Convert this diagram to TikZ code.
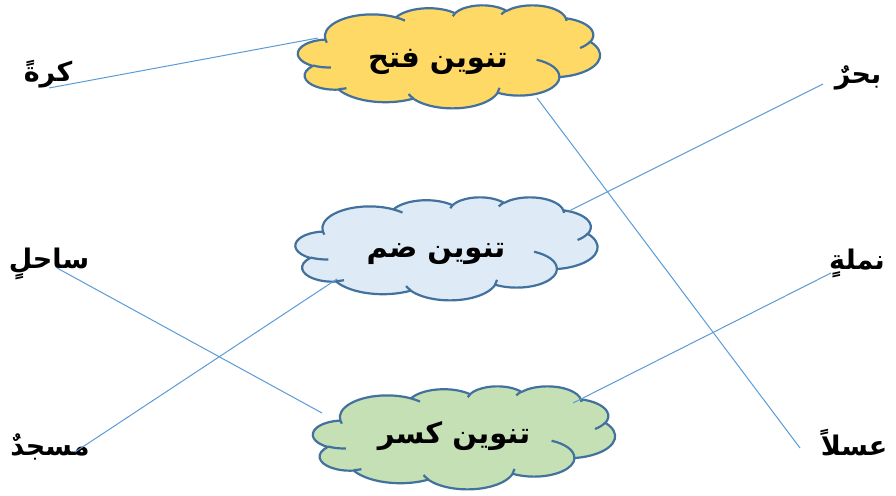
\documentclass[tikz,border=0pt]{standalone}
\usepackage{fontspec}
\usetikzlibrary{calc}
\newfontfamily\arabicfont[Script=Arabic]{DejaVu Sans}
\TeXXeTstate=1
\definecolor{linkblue}{RGB}{91,155,213}
\definecolor{cloudedge}{RGB}{65,113,156}
\definecolor{fathfill}{RGB}{255,217,102}
\definecolor{dammfill}{RGB}{222,235,247}
\definecolor{kasrfill}{RGB}{197,224,180}
\newcommand{\artext}[1]{\arabicfont\bfseries\beginR #1\endR}
% cloud outline, 302 x 103 around the given centre
\newcommand{\tanweencloud}[2]{%
    \begin{scope}[shift={#1}, shift={(-151,-51.5)}, x=0.69907pt, y=-0.23843pt]
        \filldraw[cloudline, fill=#2] (39,143.7)
            arc[start angle=-187.746, delta angle=128.11, x radius=67.53, y radius=91.90]
            arc[start angle=-152.019, delta angle=106.592, x radius=53.33, y radius=72.67]
            arc[start angle=-153.495, delta angle=116.17, x radius=43.65, y radius=59.45]
            arc[start angle=-139.72, delta angle=129.51, x radius=48.57, y radius=65.95]
            arc[start angle=-74.768, delta angle=97.974, x radius=53.33, y radius=72.73]
            arc[start angle=-37.52, delta angle=119.38, x radius=67.75, y radius=92.20]
            arc[start angle=0.4596, delta angle=121.52, x radius=57.85, y radius=78.67]
            arc[start angle=16.845, delta angle=129.385, x radius=67.52, y radius=92.15]
            arc[start angle=58.985, delta angle=91.195, x radius=77.20, y radius=105.43]
            arc[start angle=-276.694, delta angle=139.80, x radius=43.60, y radius=59.18]
            arc[start angle=-239.65, delta angle=143.76, x radius=43.45, y radius=59.45]
            -- cycle;
        % small inner folds
        \draw[cloudline]
            (46.93,261.77) arc[start angle=85.547, delta angle=34.80, x radius=43.45, y radius=59.45]
            (69.28,348.99) arc[start angle=68.23, delta angle=15.07, x radius=43.60, y radius=59.18]
            (164.78,390.90) arc[start angle=146.23, delta angle=12.24, x radius=67.52, y radius=92.15]
            (288.27,347.51) arc[start angle=4.737, delta angle=12.108, x radius=67.52, y radius=92.15]
            (341.29,229.54) arc[start angle=-64.03, delta angle=64.49, x radius=57.85, y radius=78.67]
            (417.98,153.54) arc[start angle=23.206, delta angle=26.44, x radius=53.33, y radius=72.73]
            (383.24,54.26) arc[start angle=-10.211, delta angle=11.03, x radius=48.57, y radius=65.95]
            (290.78,39.52) arc[start angle=-156.28, delta angle=16.56, x radius=48.57, y radius=65.95]
            (221.41,47.20) arc[start angle=-167.725, delta angle=14.23, x radius=43.65, y radius=59.45]
            (140.00,51.92) arc[start angle=-59.636, delta angle=13.93, x radius=67.53, y radius=91.90]
            (41.27,157.89) arc[start angle=163.194, delta angle=9.06, x radius=67.53, y radius=91.90];
    \end{scope}}

\begin{document}
\begin{tikzpicture}[x=1pt,y=-1pt,
        cloudline/.style={draw=cloudedge, line width=2.2pt, line join=round},
        tanween/.style={inner sep=0pt, font=\fontsize{29}{34}\selectfont},
        word/.style={inner sep=0pt, font=\fontsize{27}{32}\selectfont},
        link/.style={draw=linkblue, line width=1pt}]
        \useasboundingbox (0,0) rectangle (896,495);

        % the three kinds of tanween
        \tanweencloud{(449,56.5)}{fathfill}
        \tanweencloud{(446.5,248.5)}{dammfill}
        \tanweencloud{(464,437.5)}{kasrfill}
        \node[tanween] (fath) at (438,62) {\artext{تنوين فتح}};
        \node[tanween] (damm) at (436,254) {\artext{تنوين ضم}};
        \node[tanween] (kasr) at (454,436) {\artext{تنوين كسر}};

        % words on the left
        \node[word] (kura) at (48,74) {\artext{كرةً}};
        \node[word] (sahil) at (49,264) {\artext{ساحلٍ}};
        \node[word] (masjid) at (50,447) {\artext{مسجدٌ}};

        % words on the right
        \node[word] (bahr) at (858,78) {\artext{بحرٌ}};
        \node[word] (namla) at (857,263) {\artext{نملةٍ}};
        \node[word] (asal) at (854,443) {\artext{عسلاً}};

        \draw[link] ($(kura)+(1,14)$) -- ($(fath)+(-120,-24)$);
        \draw[link] ($(fath)+(99,36)$) -- ($(asal)+(-54,5)$);
        \draw[link] ($(bahr)+(-35,6)$) -- ($(damm)+(133,-43)$);
        \draw[link] ($(sahil)+(8,4)$) -- ($(kasr)+(-132,-23)$);
        \draw[link] ($(masjid)+(25,5)$) -- ($(damm)+(-99,25)$);
        \draw[link] ($(namla)+(-26,10)$) -- ($(kasr)+(119,-33)$);
    \end{tikzpicture}
\end{document}
